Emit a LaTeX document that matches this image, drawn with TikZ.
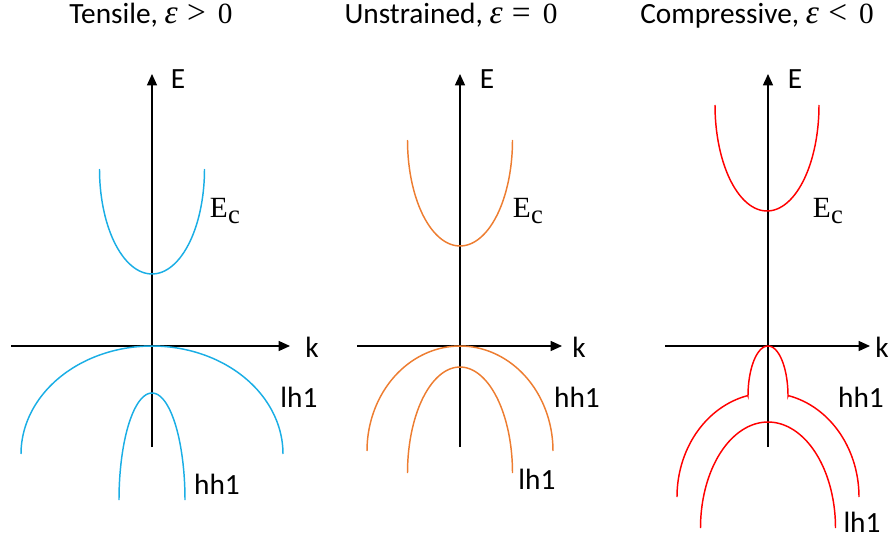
\documentclass[tikz,border=0pt]{standalone}
\usepackage{fontspec}
\setmainfont{Carlito}
\newfontfamily\symfont{Liberation Serif}
\usetikzlibrary{arrows.meta}
\definecolor{ink}{HTML}{000000}
\definecolor{tensC}{HTML}{1AAEE5}
\definecolor{unsC}{HTML}{ED7D31}
\definecolor{compC}{HTML}{FF0000}
\newcommand{\epsrel}[1]{{\symfont\fontsize{25}{26}\selectfont\itshape ε}\hspace{7pt}{\symfont\fontsize{25}{26}\selectfont #1}\hspace{9pt}{\symfont 0}}
\newcommand{\condband}{{\symfont E\kern0.3pt\raisebox{-4.5pt}{\fontsize{20}{20}\selectfont c}}}
\tikzset{
  >={Triangle[length=8.5pt,width=7.5pt]},
  axis/.style={->,ink,line width=1pt},
  band/.style={line width=1.1pt,samples=60,smooth},
  ttl/.style={font=\fontsize{22}{26}\selectfont,text=ink,anchor=base,inner sep=0pt,
    text height=15pt,text depth=4pt},
  axlab/.style={font=\fontsize{22}{26}\selectfont,text=ink,anchor=base,inner sep=0pt},
  bandlab/.style={font=\fontsize{22}{26}\selectfont,text=ink,anchor=base,inner sep=0pt},
}

\begin{document}
\begin{tikzpicture}[x=0.75pt,y=-0.75pt]
\useasboundingbox (0,0) rectangle (893,542);

% ---------- titles ----------
\node[ttl] (t1) at (151,24) {Tensile, \epsrel{>}};
\node[ttl] (t2) at (451,24) {Unstrained, \epsrel{=}};
\node[ttl] (t3) at (757,24) {Compressive, \epsrel{<}};

% ================= TENSILE =================
\draw[axis] (152,447) -- (152,74);
\draw[axis] (11,346) -- (290,346);
\node[axlab] (E1) at (178,89) {E};
\node[axlab] (k1) at (312,357) {k};
\draw[band,tensC] plot[domain=0:180] ({152+52.5*cos(\x)},{169+105*sin(\x)});
\draw[band,tensC] plot[domain=0:180] ({152+131*cos(\x)},{454-108*sin(\x)});
\draw[band,tensC] plot[domain=0:180] ({152+33*cos(\x)},{500-107*sin(\x)});
\node[bandlab] (Ec1) at (225,217) {\condband};
\node[bandlab] (lh1a) at (299,407) {lh1};
\node[bandlab] (hh1a) at (217,494) {hh1};

% ================= UNSTRAINED =================
\draw[axis] (460,447) -- (460,74);
\draw[axis] (357,346) -- (562,346);
\node[axlab] (E2) at (487,89) {E};
\node[axlab] (k2) at (579,357) {k};
\draw[band,unsC] plot[domain=0:180] ({460+52.5*cos(\x)},{140+106*sin(\x)});
\draw[band,unsC] plot[domain=0:180] ({460+93*cos(\x)},{451-105*sin(\x)});
\draw[band,unsC] plot[domain=0:180] ({460+52.5*cos(\x)},{473-106*sin(\x)});
\node[bandlab] (Ec2) at (528,217) {\condband};
\node[bandlab] (hh1b) at (577,407) {hh1};
\node[bandlab] (lh1b) at (537,489) {lh1};

% ================= COMPRESSIVE =================
\draw[axis] (768,447) -- (768,74);
\draw[axis] (665,346) -- (870,346);
\node[axlab] (E3) at (795,89) {E};
\node[axlab] (k3) at (882,357) {k};
\draw[band,compC] plot[domain=0:180] ({767+52*cos(\x)},{105+106*sin(\x)});
% hh1 with the narrow cap on top
\draw[band,compC] plot[domain=180:102.8] ({768+91*cos(\x)},{497-104*sin(\x)})
  -- plot[domain=180:0] ({768+20*cos(\x)},{396-50*sin(\x)})
  -- plot[domain=77.2:0] ({768+91*cos(\x)},{497-104*sin(\x)});
\draw[band,compC] plot[domain=0:180] ({768+67.5*cos(\x)},{528-106*sin(\x)});
\node[bandlab] (Ec3) at (828,217) {\condband};
\node[bandlab] (hh1c) at (861,407) {hh1};
\node[bandlab] (lh1c) at (862,532) {lh1};

\end{tikzpicture}
\end{document}
